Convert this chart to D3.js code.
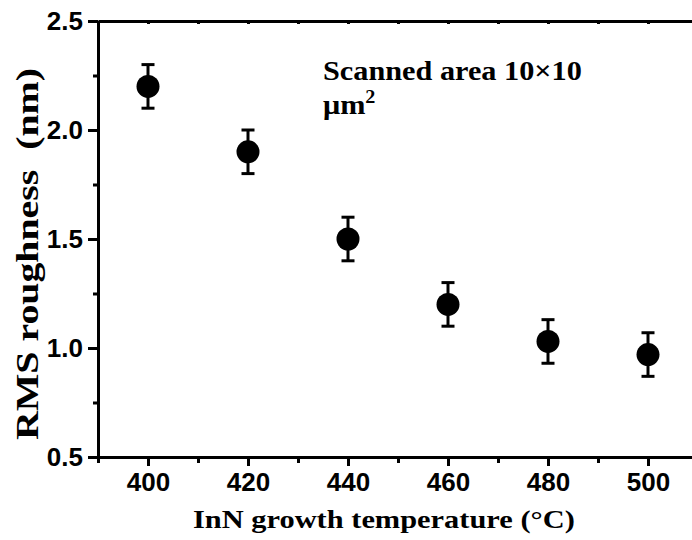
<!DOCTYPE html>
<html>
<head>
<meta charset="utf-8">
<script src="https://cdn.jsdelivr.net/npm/d3@7"></script>
<style>
html,body{margin:0;padding:0;background:#fff;}
svg{display:block;}
</style>
</head>
<body>
<svg id="chart" width="692" height="540"></svg>
<script>
const temperatures = [400, 420, 440, 460, 480, 500];
const roughness = [2.2, 1.9, 1.5, 1.2, 1.03, 0.97];
const errors = [0.1, 0.1, 0.1, 0.1, 0.1, 0.1];
const xTicks = [400, 420, 440, 460, 480, 500];
const yTicks = [0.5, 1.0, 1.5, 2.0, 2.5];
const xLabel = "InN growth temperature (\u00B0C)";
const yLabel = "RMS roughness  (nm)";
const noteLines = ["Scanned area 10\u00D710", "\u03BCm"];

const svg = d3.select("#chart");
const x = d3.scaleLinear().domain([390, 510]).range([98, 698]);
const y = d3.scaleLinear().domain([0.5, 2.5]).range([457, 21]);

const tickFont = "'Liberation Sans', Arial, sans-serif";
const serif = "'Liberation Serif', 'Times New Roman', serif";

const xMinor = d3.range(390, 511, 10).filter(v => !xTicks.includes(v));
const yMinor = d3.range(0.75, 2.5, 0.5);

svg.append("g").attr("transform", "translate(0,457)")
  .call(d3.axisBottom(x).tickValues(xTicks).tickSize(9).tickSizeOuter(0).tickPadding(7).tickFormat(d3.format("d")));
svg.append("g").attr("transform", "translate(0,457)")
  .call(d3.axisBottom(x).tickValues(xMinor).tickSize(6).tickSizeOuter(0).tickFormat(""))
  .select(".domain").remove();

svg.append("g").attr("transform", "translate(0,21)")
  .call(d3.axisBottom(x).tickValues(d3.range(390, 511, 10)).tickSize(3).tickSizeOuter(0).tickFormat(""));

svg.append("g").attr("transform", "translate(98,0)")
  .call(d3.axisLeft(y).tickValues(yTicks).tickSize(10).tickSizeOuter(0).tickPadding(5).tickFormat(d3.format(".1f")));
svg.append("g").attr("transform", "translate(98,0)")
  .call(d3.axisLeft(y).tickValues(yMinor).tickSize(5).tickSizeOuter(0).tickFormat(""))
  .select(".domain").remove();

svg.selectAll(".domain").attr("stroke", "#000").attr("stroke-width", 3);
svg.selectAll(".tick line").attr("stroke", "#000").attr("stroke-width", 3);
svg.selectAll(".tick text").attr("fill", "#000")
  .style("font-family", tickFont).style("font-weight", "bold").style("font-size", "26px");

const pts = temperatures.map((t, i) => ({t, v: roughness[i], e: errors[i]}));
const eb = svg.append("g").attr("stroke", "#000").attr("stroke-width", 3);
eb.selectAll("line.v").data(pts).join("line").attr("class", "v")
  .attr("x1", d => x(d.t)).attr("x2", d => x(d.t))
  .attr("y1", d => y(d.v + d.e)).attr("y2", d => y(d.v - d.e));
eb.selectAll("line.top").data(pts).join("line").attr("class", "top")
  .attr("x1", d => x(d.t) - 6.5).attr("x2", d => x(d.t) + 6.5)
  .attr("y1", d => y(d.v + d.e)).attr("y2", d => y(d.v + d.e));
eb.selectAll("line.bot").data(pts).join("line").attr("class", "bot")
  .attr("x1", d => x(d.t) - 6.5).attr("x2", d => x(d.t) + 6.5)
  .attr("y1", d => y(d.v - d.e)).attr("y2", d => y(d.v - d.e));
svg.append("g").selectAll("circle").data(pts).join("circle")
  .attr("cx", d => x(d.t)).attr("cy", d => y(d.v)).attr("r", 11.5).attr("fill", "#000");

// x title (stretched horizontally to match the reference width)
const xt = svg.append("g");
const xtText = xt.append("text").attr("x", 0).attr("y", 0)
  .style("font-family", serif).style("font-weight", "bold").style("font-size", "26px")
  .text(xLabel);
const xsx = 382 / xtText.node().getComputedTextLength();
xt.attr("transform", `translate(193,528) scale(${xsx},1)`);

// y title
const yt = svg.append("g");
const ytText = yt.append("text").attr("x", 0).attr("y", 0).attr("text-anchor", "middle")
  .attr("xml:space", "preserve").style("white-space", "pre")
  .style("font-family", serif).style("font-weight", "bold").style("font-size", "32px")
  .text(yLabel);
const ysx = 372 / ytText.node().getComputedTextLength();
yt.attr("transform", `translate(38,254) rotate(-90) scale(${ysx},1)`);

// annotation
const note = svg.append("g");
const n1 = note.append("text").attr("x", 0).attr("y", 0)
  .style("font-family", serif).style("font-weight", "bold").style("font-size", "27px")
  .text(noteLines[0]);
const t2 = note.append("text").attr("x", 0).attr("y", 34)
  .style("font-family", serif).style("font-weight", "bold").style("font-size", "27px");
t2.append("tspan").text(noteLines[1]);
t2.append("tspan").attr("dy", -11).style("font-size", "18px").text("2");
const sx = 259 / n1.node().getComputedTextLength();
note.attr("transform", `translate(323,80) scale(${sx},1)`);
</script>
</body>
</html>
